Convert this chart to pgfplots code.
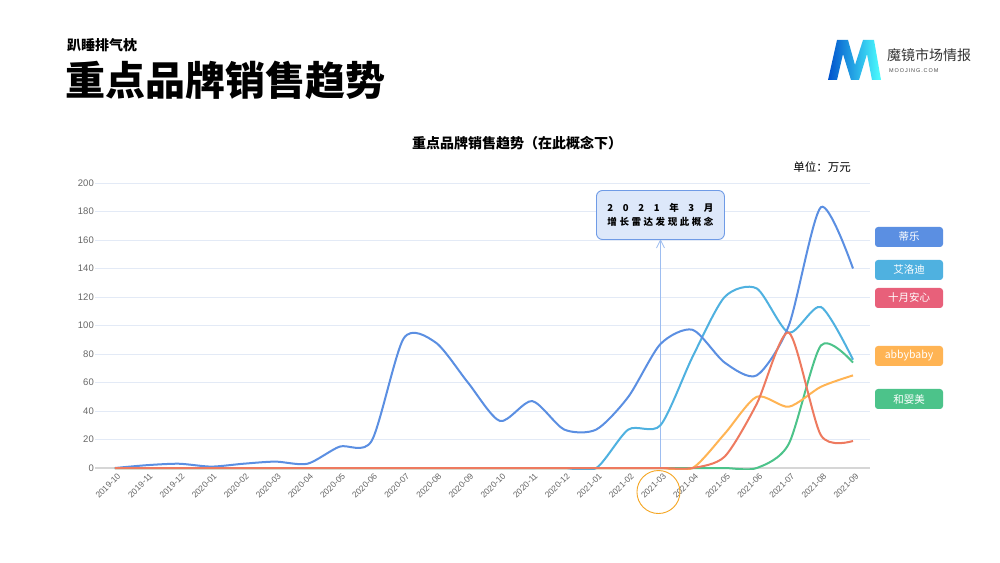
\documentclass[border=0pt]{standalone}
\usepackage{fontspec}
\setmainfont{Liberation Sans}
\newfontfamily\cjk{Noto Sans CJK SC}
\usepackage{pgfplots}
\pgfplotsset{compat=1.18}
\usetikzlibrary{arrows.meta}
\definecolor{cblue}{HTML}{5B8FE2}
\definecolor{clblue}{HTML}{4FB1E0}
\definecolor{cred}{HTML}{EE7A5F}
\definecolor{credbox}{HTML}{E8607A}
\definecolor{corange}{HTML}{FFB454}
\definecolor{cgreen}{HTML}{4CC38A}
\definecolor{gridc}{HTML}{E3EAF6}
\definecolor{axisc}{HTML}{D6D6D6}
\definecolor{tickc}{HTML}{666666}
\definecolor{annfill}{HTML}{DDE8FA}
\definecolor{annline}{HTML}{6F9BE6}
\definecolor{annarrow}{HTML}{9DBDF0}
\definecolor{circc}{HTML}{F5A623}
\begin{document}
\begin{tikzpicture}[x=1pt,y=1pt]
\useasboundingbox (0,0) rectangle (1000,562);
\fill[white] (0,0) rectangle (1000,562);
% headings
\node[anchor=west,inner sep=0,font=\cjk\bfseries\fontsize{14}{14}\selectfont] at (67,517) {趴睡排气枕};
\node[anchor=west,inner sep=0,font=\cjk\bfseries\fontsize{40}{40}\selectfont] at (65,482) {重点品牌销售趋势};
% logo
\shade[left color=blue!60!cyan!80!black, right color=cyan!70!white]
 (828,482) -- (837,522) -- (848,522) -- (855,497) -- (863,522) -- (874,522) -- (881,482) -- (872,482) -- (867,508) -- (859,482) -- (851,482) -- (843,508) -- (837,482) -- cycle;
\node[anchor=west,inner sep=0,font=\cjk\fontsize{14}{14}\selectfont,text=black!80] at (887,507) {魔镜市场情报};
\node[anchor=west,inner sep=0,font=\fontsize{5.5}{6}\selectfont,text=black!70] at (889,491) {M\,O\,O\,J\,I\,N\,G\,.\,C\,O\,M};
% chart title
\node[inner sep=0,font=\cjk\bfseries\fontsize{14}{14}\selectfont] at (517,419) {重点品牌销售趋势（在此概念下）};
\node[inner sep=0,font=\cjk\fontsize{11.5}{12}\selectfont] at (822,395) {单位：万元};
\begin{axis}[
  at={(95pt,91.7pt)}, anchor=south west, scale only axis,
  width=775pt, height=287.3pt,
  xmin=-0.62, xmax=23.53, ymin=-1.6, ymax=200,
  axis line style={draw=none}, tick style={draw=none},
  ymajorgrids, grid style={color=gridc, line width=0.8pt},
  ytick={0,20,...,200},
  xtick={0,...,23},
  xticklabels={2019-10,2019-11,2019-12,2020-01,2020-02,2020-03,2020-04,2020-05,2020-06,2020-07,2020-08,2020-09,2020-10,2020-11,2020-12,2021-01,2021-02,2021-03,2021-04,2021-05,2021-06,2021-07,2021-08,2021-09},
  xticklabel style={rotate=45, anchor=east, font=\fontsize{8.5}{9}\selectfont, text=tickc, inner sep=1pt, xshift=1pt, yshift=-6pt},
  yticklabel style={font=\fontsize{9.5}{10}\selectfont, text=tickc, inner sep=1pt},
  /pgf/number format/assume math mode=true,
  every axis plot/.append style={line width=2pt, smooth, tension=0.45, no markers},
]
\draw[axisc, line width=1.2pt] (axis cs:-0.62,0) -- (axis cs:23.53,0);
\draw[annarrow, line width=0.8pt] (axis cs:17,0) -- (axis cs:17,160);
\begin{scope}
\clip (axis cs:-0.62,-0.8) rectangle (axis cs:23.53,200);
\addplot[cgreen] coordinates {(0,0)(1,0)(2,0)(3,0)(4,0)(5,0)(6,0)(7,0)(8,0)(9,0)(10,0)(11,0)(12,0)(13,0)(14,0)(15,0)(16,0)(17,0)(18,0)(19,0)(20,0)(21,17)(22,86)(23,74)};
\addplot[corange] coordinates {(0,0)(1,0)(2,0)(3,0)(4,0)(5,0)(6,0)(7,0)(8,0)(9,0)(10,0)(11,0)(12,0)(13,0)(14,0)(15,0)(16,0)(17,0)(18,0)(19,24)(20,50)(21,43)(22,57)(23,65)};
\addplot[clblue] coordinates {(0,0)(1,0)(2,0)(3,0)(4,0)(5,0)(6,0)(7,0)(8,0)(9,0)(10,0)(11,0)(12,0)(13,0)(14,0)(15,0)(16,27)(17,30)(18,78)(19,120)(20,126)(21,95)(22,113)(23,76)};
\addplot[cblue] coordinates {(0,0)(1,2)(2,3)(3,1)(4,3)(5,4.5)(6,3)(7,15)(8,19)(9,91)(10,88)(11,60)(12,33)(13,47)(14,27)(15,27)(16,50)(17,87)(18,97)(19,74)(20,65)(21,100)(22,183)(23,140)};
\addplot[cred] coordinates {(0,0)(1,0)(2,0)(3,0)(4,0)(5,0)(6,0)(7,0)(8,0)(9,0)(10,0)(11,0)(12,0)(13,0)(14,0)(15,0)(16,0)(17,0)(18,0)(19,8)(20,45)(21,95)(22,23)(23,19)};
\end{scope}
\coordinate (arrtip) at (axis cs:17,160);
\coordinate (circ) at (axis cs:17,0);
\end{axis}
% arrow head and annotation box
\draw[annarrow, line width=0.8pt] ([shift={(-4,-8)}]arrtip) -- (arrtip) -- ([shift={(4,-8)}]arrtip);
\node[draw=annline, fill=annfill, rounded corners=6pt, line width=0.9pt, minimum width=128pt, minimum height=49pt, inner sep=0, align=center, font=\cjk\bfseries\fontsize{9.5}{14}\selectfont] at ([yshift=25pt]arrtip)
 {\makebox[106pt][s]{2\hfill 0\hfill 2\hfill 1\hfill 年\hfill 3\hfill 月}\\ \makebox[106pt][s]{增\hfill 长\hfill 雷\hfill 达\hfill 发\hfill 现\hfill 此\hfill 概\hfill 念}};
\draw[circc, line width=0.9pt] ([shift={(-2,-24)}]circ) circle (21.5);
% legend boxes
\foreach \yy/\cc/\tt in {325/cblue/蒂乐, 292/clblue/艾洛迪, 264/credbox/十月安心, 206/corange/abbybaby, 163/cgreen/和婴美}{
  \node[fill=\cc, rounded corners=3pt, minimum width=68pt, minimum height=20pt, inner sep=0, text=white, font=\cjk\fontsize{10.5}{11}\selectfont] at (909,\yy) {\tt};
}
\end{tikzpicture}
\end{document}
